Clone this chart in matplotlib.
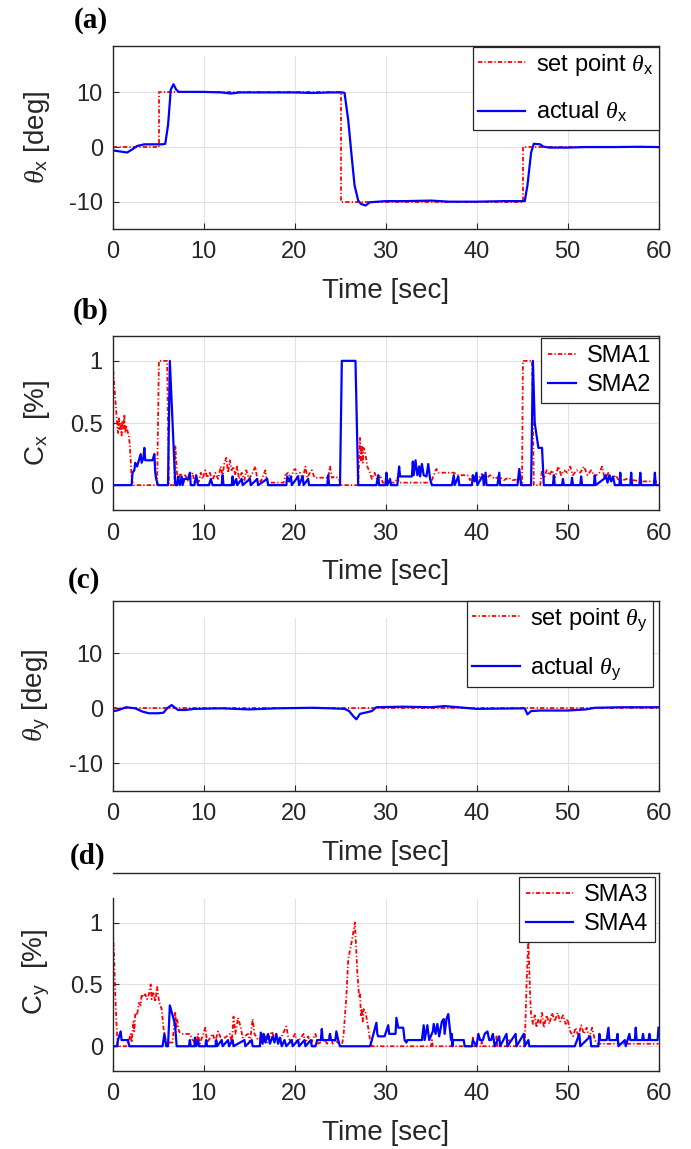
import numpy as np
import matplotlib
matplotlib.use('Agg')
import matplotlib.pyplot as plt

plt.rcParams['font.family'] = ['Liberation Sans', 'DejaVu Sans']
plt.rcParams['mathtext.fontset'] = 'custom'
plt.rcParams['mathtext.rm'] = 'Liberation Sans'
plt.rcParams['mathtext.it'] = 'Liberation Serif:italic'
plt.rcParams['mathtext.sf'] = 'Liberation Sans'
plt.rcParams['axes.unicode_minus'] = False

# ---------------- data ----------------
time_ticks = [0, 10, 20, 30, 40, 50, 60]
deg_ticks = [-10, 0, 10]
deg_ticklabels = ['-10', '0', '10']
pct_ticks = [0, 0.5, 1]
pct_ticklabels = ['0', '0.5', '1']

# (a) theta_x
setpoint_x = np.array([[0, 0], [5.1, 0], [5.1, 10], [25.1, 10], [25.1, -10],
                       [45.1, -10], [45.1, 0], [60, 0]])
actual_x = np.array([[0, -0.6], [0.8, -0.8], [1.6, -1.0], [2.2, -0.4], [2.7, 0.2],
                     [3.5, 0.5], [5.5, 0.5], [5.8, 0.6], [6.1, 4], [6.2, 6],
                     [6.4, 10.5], [6.7, 11.5], [7.0, 10.5], [7.3, 10.1], [8, 10.1],
                     [10, 10.1], [12, 10.0], [13, 9.8], [14, 10.0], [16, 10.0],
                     [18, 10.0], [20, 10.0], [22, 9.9], [24, 10.0], [25.3, 10.0],
                     [25.5, 9.9], [25.9, 5], [26.3, -2], [26.6, -7], [27.0, -9.8],
                     [27.3, -10.4], [27.8, -10.7], [28.3, -10.1], [30, -9.9],
                     [32, -9.9], [35, -9.8], [37, -10.0], [40, -10.0], [43, -9.9],
                     [45.3, -9.9], [45.6, -7], [46.0, -1], [46.3, 0.6], [47.0, 0.5],
                     [47.3, 0.1], [48, -0.1], [50, -0.1], [52, 0], [55, 0],
                     [58, 0.05], [60, 0]])

# (b) SMA1 / SMA2
sma1 = np.array([[0, 1.0], [0.3, 0.7], [0.5, 0.5], [0.6, 0.42], [0.7, 0.55], [0.8, 0.45],
                 [0.9, 0.5], [1.0, 0.4], [1.1, 0.52], [1.2, 0.45], [1.3, 0.57], [1.4, 0.42],
                 [1.5, 0.48], [1.6, 0.45], [1.7, 0.42], [1.8, 0.4], [1.9, 0.32], [2.0, 0.2],
                 [2.1, 0.05], [2.3, 0], [4.9, 0], [5.1, 1.0], [6.0, 1.0], [6.2, 0], [6.8, 0],
                 [6.9, 0.32], [7.0, 0.2], [7.1, 0.08], [7.3, 0.05], [7.5, 0.1], [7.7, 0.03],
                 [8.0, 0.08], [8.3, 0.03], [8.8, 0.1], [9.0, 0.02], [9.5, 0.03], [9.7, 0.1],
                 [9.9, 0.05], [10.2, 0.12], [10.4, 0.06], [10.7, 0.1], [11.0, 0.04],
                 [11.3, 0.1], [11.6, 0.05], [11.9, 0.15], [12.1, 0.08], [12.3, 0.18],
                 [12.5, 0.22], [12.7, 0.1], [12.9, 0.2], [13.1, 0.12], [13.3, 0.15],
                 [13.5, 0.08], [13.7, 0.15], [13.9, 0.05], [14.2, 0.1], [14.5, 0.04],
                 [14.7, 0.12], [15.0, 0.05], [15.4, 0.1], [15.7, 0.15], [15.9, 0.05],
                 [16.3, 0.03], [16.8, 0.12], [17.0, 0.02], [18.8, 0.02], [19.0, 0.08],
                 [19.3, 0.1], [19.6, 0.05], [19.9, 0.12], [20.1, 0.13], [20.3, 0.06],
                 [20.6, 0.1], [20.9, 0.05], [21.2, 0.15], [21.4, 0.06], [21.7, 0.1],
                 [21.9, 0.12], [22.2, 0.06], [23.7, 0.06], [23.9, 0.15], [24.1, 0.06],
                 [24.5, 0.07], [24.9, 0.05], [25.1, 0], [27.0, 0], [27.2, 0.38], [27.3, 0.2],
                 [27.4, 0.32], [27.5, 0.18], [27.6, 0.3], [27.8, 0.25], [28.0, 0.15],
                 [28.3, 0.1], [28.5, 0.05], [28.8, 0.1], [29.1, 0.04], [29.4, 0.08],
                 [29.7, 0.02], [31.0, 0.02], [31.3, 0.06], [31.5, 0.02], [35.0, 0.02],
                 [35.3, 0.08], [35.6, 0.13], [35.8, 0.1], [37.5, 0.1], [38.0, 0.08],
                 [39.0, 0.08], [39.3, 0.04], [39.6, 0.08], [40.2, 0.05], [40.6, 0.09],
                 [41.0, 0.05], [41.5, 0.08], [42.0, 0.05], [42.5, 0.07], [43.0, 0.04],
                 [43.5, 0.06], [44.0, 0.04], [44.8, 0.05], [45.0, 0], [45.1, 1.0],
                 [46.1, 1.0], [46.3, 0], [47.0, 0], [47.2, 0.12], [47.4, 0.05], [47.7, 0.12],
                 [48.0, 0.08], [48.3, 0.12], [48.6, 0.06], [49.0, 0.15], [49.3, 0.08],
                 [49.6, 0.12], [50.0, 0.1], [50.3, 0.15], [50.6, 0.08], [51.0, 0.12],
                 [51.4, 0.1], [51.8, 0.15], [52.2, 0.08], [52.6, 0.12], [53.0, 0.07],
                 [53.5, 0.1], [53.8, 0.15], [54.1, 0.05], [54.5, 0.1], [54.9, 0.04],
                 [55.3, 0.08], [55.7, 0.03], [56.5, 0.05], [58, 0.03], [60, 0.03]])
sma2 = np.array([[0, 0], [2.1, 0], [2.2, 0.1], [2.4, 0.12], [2.5, 0.18], [2.7, 0.15],
                 [2.9, 0.2], [3.1, 0.25], [3.2, 0.18], [3.4, 0.22], [3.5, 0.3], [3.6, 0.2],
                 [4.4, 0.2], [4.6, 0.25], [4.7, 0.1], [4.8, 0.05], [5.0, 0], [6.1, 0],
                 [6.3, 1.0], [6.9, 0], [7.1, 0], [7.2, 0.07], [7.4, 0], [7.6, 0.07], [7.7, 0],
                 [7.9, 0.05], [8.3, 0.05], [8.5, 0.1], [8.6, 0], [9.0, 0], [9.2, 0.08],
                 [9.4, 0], [10.6, 0], [10.8, 0.05], [11.0, 0], [12.0, 0], [12.1, 0.08],
                 [12.2, 0], [13.1, 0], [13.2, 0.07], [13.3, 0], [13.6, 0.05], [13.7, 0],
                 [14.2, 0.05], [14.3, 0], [15.1, 0.05], [15.2, 0], [15.9, 0.05], [16.0, 0],
                 [17.0, 0.05], [17.1, 0], [19.1, 0], [19.2, 0.07], [19.4, 0.03], [19.6, 0.07],
                 [19.7, 0], [20.4, 0.07], [20.5, 0], [20.9, 0.07], [21.0, 0], [21.5, 0.05],
                 [21.6, 0], [23.6, 0], [23.7, 0.08], [23.8, 0], [25.0, 0], [25.2, 1.0],
                 [26.7, 1.0], [27.0, 0], [29.0, 0], [29.2, 0.08], [29.3, 0], [30.0, 0],
                 [30.1, 0.1], [30.2, 0], [30.5, 0.05], [30.6, 0], [31.3, 0], [31.5, 0.15],
                 [31.6, 0.07], [32.9, 0.07], [33.0, 0.19], [33.1, 0.08], [33.3, 0.2],
                 [33.5, 0.08], [33.7, 0.15], [33.8, 0.07], [34.0, 0.17], [34.2, 0.08],
                 [34.5, 0.07], [34.7, 0.17], [34.9, 0.05], [35.1, 0], [37.3, 0], [37.5, 0.08],
                 [37.6, 0], [38.0, 0.07], [38.1, 0], [39.5, 0], [39.6, 0.08], [39.8, 0.03],
                 [40.0, 0.1], [40.1, 0], [40.7, 0.08], [40.8, 0], [41.0, 0.1], [41.1, 0],
                 [42.3, 0], [42.5, 0.1], [42.6, 0], [44.5, 0], [44.7, 0.13], [44.9, 0],
                 [46.0, 0], [46.2, 1.0], [46.4, 0.5], [46.6, 0.4], [46.8, 0.3], [47.2, 0.3],
                 [47.4, 0], [48.4, 0], [48.5, 0.08], [48.6, 0], [49.4, 0], [49.5, 0.05],
                 [49.6, 0], [50.4, 0], [50.5, 0.06], [50.6, 0], [51.4, 0], [51.5, 0.07],
                 [51.6, 0], [52.9, 0], [53.0, 0.08], [53.1, 0], [54.0, 0.05], [54.2, 0.08],
                 [54.4, 0.02], [54.6, 0.08], [54.8, 0.03], [55.0, 0.07], [55.2, 0],
                 [55.7, 0], [55.8, 0.1], [55.9, 0], [56.9, 0], [57.0, 0.1], [57.1, 0],
                 [57.9, 0], [58.0, 0.1], [58.1, 0], [59.5, 0], [59.6, 0.1], [59.7, 0],
                 [60, 0]])

# (c) theta_y
setpoint_y = np.array([[0, 0], [60, 0]])
actual_y = np.array([[0, -0.5], [0.5, -0.4], [1.5, 0.2], [2.5, 0.0], [3.3, -0.6],
                     [4.0, -0.9], [5.0, -0.9], [5.6, -0.8], [6.0, 0.0], [6.5, 0.6],
                     [6.8, 0.2], [7.2, -0.3], [8, -0.3], [9, -0.1], [12, 0], [15, -0.2],
                     [18, 0], [22, 0.1], [24, 0], [25.5, -0.1], [26, -0.5], [26.5, -1.5],
                     [26.8, -2.0], [27.2, -1.0], [28, -0.7], [28.5, -0.5], [29, 0.2],
                     [32, 0.3], [35, 0.2], [36.5, 0.4], [38, 0.2], [40, -0.1], [45.3, 0],
                     [45.6, -1.1], [46, -0.5], [47, -0.4], [50, -0.4], [52, -0.2],
                     [53, 0.1], [56, 0.2], [60, 0.2]])

# (d) SMA3 / SMA4
sma3 = np.array([[0, 1.0], [0.16, 0.75], [0.31, 0.4], [0.46, 0.15], [0.57, 0], [1.5, 0],
                 [1.8, 0.05], [2.0, 0.1], [2.1, 0.03], [2.3, 0.2], [2.4, 0.12], [2.5, 0.27],
                 [2.7, 0.25], [2.9, 0.35], [3.1, 0.33], [3.2, 0.42], [3.4, 0.4], [3.6, 0.42],
                 [3.8, 0.38], [4.0, 0.42], [4.2, 0.5], [4.3, 0.38], [4.5, 0.44], [4.7, 0.36],
                 [4.9, 0.48], [5.0, 0.42], [5.15, 0.35], [5.4, 0.3], [5.6, 0.15], [5.9, 0.03],
                 [6.6, 0.03], [6.9, 0.28], [7.0, 0.15], [7.1, 0.22], [7.3, 0.12], [7.6, 0.1],
                 [8.5, 0.1], [8.8, 0.05], [9.2, 0.02], [9.4, 0.1], [9.6, 0.02], [10.2, 0.15],
                 [10.4, 0.03], [11.0, 0.1], [11.3, 0.04], [11.6, 0.12], [12.0, 0.05],
                 [12.9, 0.1], [13.1, 0.03], [13.3, 0.24], [13.5, 0.1], [13.8, 0.23],
                 [14.1, 0.15], [14.3, 0.07], [14.9, 0.1], [15.1, 0.03], [15.4, 0.22],
                 [15.6, 0.1], [16.0, 0.05], [16.8, 0.1], [17.0, 0.03], [17.5, 0.12],
                 [17.8, 0.07], [18.4, 0.05], [19.1, 0.16], [19.3, 0.08], [19.6, 0.03],
                 [20.05, 0.1], [20.3, 0.03], [21.0, 0.1], [21.2, 0.02], [21.5, 0.08],
                 [21.8, 0.02], [22.3, 0.1], [22.6, 0.02], [23.3, 0.05], [23.6, 0.02],
                 [23.9, 0.1], [24.2, 0.02], [24.45, 0.05], [25.2, 0], [25.4, 0.1],
                 [25.7, 0.4], [25.9, 0.7], [26.3, 0.85], [26.64, 1.0], [26.9, 0.6],
                 [27.1, 0.4], [27.2, 0.42], [27.3, 0.25], [27.4, 0.3], [27.5, 0.2],
                 [27.6, 0.3], [27.8, 0.28], [28.1, 0.15], [28.3, 0.05], [28.5, 0],
                 [35.0, 0], [35.1, 0.05], [35.2, 0], [39.5, 0], [39.6, 0.07], [39.7, 0],
                 [40.5, 0], [40.6, 0.05], [40.7, 0], [42.1, 0], [42.2, 0.08], [42.3, 0],
                 [43.5, 0], [43.6, 0.05], [43.7, 0], [45.3, 0], [45.5, 0.5], [45.7, 0.86],
                 [45.9, 0.4], [46.0, 0.25], [46.2, 0.18], [46.4, 0.25], [46.6, 0.15],
                 [46.8, 0.22], [47.0, 0.18], [47.2, 0.27], [47.4, 0.15], [47.7, 0.25],
                 [48.0, 0.18], [48.3, 0.27], [48.6, 0.2], [48.9, 0.27], [49.2, 0.2],
                 [49.5, 0.25], [49.8, 0.18], [50.0, 0.22], [50.3, 0.12], [50.6, 0.08],
                 [50.9, 0.15], [51.2, 0.08], [51.5, 0.17], [51.8, 0.1], [52.1, 0.15],
                 [52.4, 0.07], [52.7, 0.15], [53.0, 0.05], [53.3, 0.02], [60, 0.02]])
sma4 = np.array([[0, 0], [0.5, 0], [0.6, 0.05], [0.9, 0.12], [1.0, 0.05], [1.7, 0.05],
                 [1.85, 0], [5.5, 0], [5.7, 0.1], [5.9, 0], [6.1, 0], [6.3, 0.33],
                 [6.6, 0.25], [6.87, 0.18], [7.05, 0], [8.4, 0], [8.5, 0.05], [8.6, 0],
                 [9.0, 0], [9.06, 0.07], [9.2, 0], [9.4, 0.05], [9.5, 0], [10.2, 0],
                 [10.3, 0.05], [10.4, 0], [11.3, 0], [11.4, 0.05], [11.5, 0], [12.0, 0.05],
                 [12.1, 0], [12.7, 0.05], [12.8, 0], [13.2, 0.05], [13.3, 0], [14.5, 0.05],
                 [14.6, 0], [15.3, 0.05], [15.4, 0], [16.2, 0], [16.3, 0.11], [16.5, 0.02],
                 [16.6, 0.1], [16.8, 0.03], [17.1, 0.1], [17.3, 0.02], [17.6, 0.08],
                 [17.8, 0.03], [18.0, 0.1], [18.2, 0.02], [18.4, 0.07], [18.6, 0],
                 [18.9, 0.05], [19.1, 0], [19.7, 0.05], [19.8, 0], [20.4, 0.05], [20.5, 0],
                 [21.1, 0.05], [21.2, 0], [21.8, 0.05], [21.9, 0], [22.3, 0], [22.5, 0.05],
                 [22.9, 0.05], [23.0, 0.14], [23.1, 0.05], [23.8, 0.05], [23.9, 0.1],
                 [24.0, 0.05], [24.5, 0.05], [24.6, 0.12], [24.8, 0.05], [25.0, 0],
                 [28.3, 0], [28.5, 0.05], [29.0, 0.19], [29.1, 0.1], [29.2, 0.08],
                 [29.9, 0.08], [30.3, 0.17], [30.4, 0.1], [31.1, 0.1], [31.2, 0.23],
                 [31.4, 0.15], [31.95, 0.15], [32.1, 0.05], [32.3, 0.03], [32.4, 0.05],
                 [34.0, 0.05], [34.2, 0.17], [34.3, 0.05], [34.6, 0.17], [34.8, 0.05],
                 [35.2, 0.12], [35.3, 0.18], [35.5, 0.1], [35.7, 0.18], [35.9, 0.08],
                 [36.2, 0.2], [36.4, 0.22], [36.5, 0.1], [36.7, 0.22], [36.9, 0.26],
                 [37.1, 0.12], [37.2, 0.05], [37.3, 0.1], [37.35, 0.0], [37.4, 0.05],
                 [38.6, 0.05], [38.7, 0], [39.5, 0], [39.6, 0.05], [40.0, 0], [40.2, 0.1],
                 [40.4, 0.05], [40.7, 0.05], [40.9, 0.1], [41.2, 0.12], [41.4, 0.05],
                 [41.6, 0.05], [41.8, 0.1], [42.0, 0], [42.5, 0.08], [42.6, 0], [43.3, 0.1],
                 [43.4, 0], [44.3, 0.1], [44.4, 0], [45.2, 0.1], [45.3, 0], [45.7, 0.05],
                 [45.8, 0], [50.8, 0], [51.3, 0.1], [51.4, 0], [52.5, 0.08], [52.6, 0],
                 [53.4, 0], [53.5, 0.1], [53.6, 0.05], [54.3, 0.05], [54.5, 0.15],
                 [54.6, 0.05], [55.4, 0.05], [55.5, 0.1], [55.6, 0], [56.3, 0.05],
                 [56.4, 0], [56.8, 0.1], [56.9, 0.05], [57.4, 0.05], [57.5, 0.15],
                 [57.6, 0.05], [58.2, 0.05], [58.3, 0.1], [58.4, 0.05], [58.9, 0.05],
                 [59.0, 0.1], [59.1, 0.05], [59.9, 0.05], [60, 0.15]])

# ---------------- figure ----------------
W, H = 691, 1149
fig = plt.figure(figsize=(W / 100, H / 100), dpi=100)

AX_L, AX_R = 112.5, 658.5


def add_ax(top, bottom):
    return fig.add_axes([AX_L / W, 1 - bottom / H, (AX_R - AX_L) / W, (bottom - top) / H])


RED = '#ff0000'
BLUE = '#0000ff'
GRID = '#e2e2e2'
SPINE = '#262626'
TICK_FS = 17
LABEL_FS = 20
DASHDOT = (0, (2.4, 1.2, 0.7, 1.2))


def style(ax, top, bottom, ylim, yticks, yticklabels, ylabel, grid_top):
    hpx = bottom - top
    ax.set_xlim(0, 60)
    ax.set_ylim(*ylim)
    ax.set_xticks(time_ticks)
    ax.set_xticklabels([str(t) for t in time_ticks])
    ax.set_yticks(yticks)
    ax.set_yticklabels(yticklabels)
    ax.tick_params(direction='in', length=4, width=0.8, color=SPINE,
                   labelsize=TICK_FS, labelcolor='#262626')
    ax.tick_params(axis='x', pad=9)
    ax.tick_params(axis='y', pad=7)
    ax.grid(axis='y', color=GRID, lw=0.8)
    for xt in time_ticks[1:-1]:
        ax.axvline(xt, ymin=0, ymax=grid_top, color=GRID, lw=0.8, zorder=0)
    ax.set_axisbelow(True)
    for s in ax.spines.values():
        s.set_color(SPINE)
        s.set_linewidth(1.0)
    ax.set_xlabel('Time [sec]', fontsize=LABEL_FS, color='#262626', va='top')
    ax.xaxis.set_label_coords(0.5, -49 / hpx)
    ax.set_ylabel(ylabel, fontsize=LABEL_FS, color='#262626')
    ax.yaxis.set_label_coords(-60 / (AX_R - AX_L), 0.5)


def legend(ax, handles_labels, x, y, hl, ls, bp):
    h, l = handles_labels
    leg = ax.legend(h, l, loc='upper right', bbox_to_anchor=(x, y), borderaxespad=0,
                    fontsize=TICK_FS, handlelength=hl, handletextpad=0.45,
                    borderpad=bp, labelspacing=ls, fancybox=False,
                    framealpha=1, edgecolor='#262626')
    leg.get_frame().set_linewidth(0.9)
    return leg


# (a)
ta, ba = 46, 229
ax1 = add_ax(ta, ba)
l1, = ax1.plot(setpoint_x[:, 0], setpoint_x[:, 1], color=RED, ls=DASHDOT, lw=1.3)
l2, = ax1.plot(actual_x[:, 0], actual_x[:, 1], color=BLUE, lw=1.6)
style(ax1, ta, ba, (-15, 18.5), deg_ticks, deg_ticklabels,
      r'$\theta_{\mathrm{x}}$ [deg]', (ba - 56) / (ba - ta))
legend(ax1, ([l1, l2], [r'set point $\theta_{\mathrm{x}}$', r'actual $\theta_{\mathrm{x}}$']),
       1.0, (ba - 46.5) / (ba - ta), 2.0, 0.95, 0.22)

# (b)
tb, bb = 336, 510
ax2 = add_ax(tb, bb)
l1, = ax2.plot(sma1[:, 0], sma1[:, 1], color=RED, ls=DASHDOT, lw=1.3)
l2, = ax2.plot(sma2[:, 0], sma2[:, 1], color=BLUE, lw=1.6)
style(ax2, tb, bb, (-0.2, 1.2), pct_ticks, pct_ticklabels,
      r'C$_{\mathrm{x}}$  [%]', 1.0)
legend(ax2, ([l1, l2], ['SMA1', 'SMA2']), 1.0, (bb - 338) / (bb - tb), 1.2, 0.3, 0.3)

# (c)
tc, bc = 600.7, 790.7
ax3 = add_ax(tc, bc)
l1, = ax3.plot(setpoint_y[:, 0], setpoint_y[:, 1], color=RED, ls=DASHDOT, lw=1.3)
l2, = ax3.plot(actual_y[:, 0], actual_y[:, 1], color=BLUE, lw=1.6)
style(ax3, tc, bc, (-15, 19.6), deg_ticks, deg_ticklabels,
      r'$\theta_{\mathrm{y}}$ [deg]', (bc - 618.3) / (bc - tc))
legend(ax3, ([l1, l2], [r'set point $\theta_{\mathrm{y}}$', r'actual $\theta_{\mathrm{y}}$']),
       (653 - AX_L) / (AX_R - AX_L), (bc - 601) / (bc - tc), 2.0, 0.95, 0.22)

# (d)
td, bd = 873, 1071
ax4 = add_ax(td, bd)
l1, = ax4.plot(sma3[:, 0], sma3[:, 1], color=RED, ls=DASHDOT, lw=1.3)
l2, = ax4.plot(sma4[:, 0], sma4[:, 1], color=BLUE, lw=1.6)
style(ax4, td, bd, (-0.2, 1.4), pct_ticks, pct_ticklabels,
      r'C$_{\mathrm{y}}$  [%]', (bd - 899.3) / (bd - td))
ax4.spines['left'].set_bounds(-0.2, 1.2)
legend(ax4, ([l1, l2], ['SMA3', 'SMA4']), (655 - AX_L) / (AX_R - AX_L),
       (bd - 877) / (bd - td), 2.0, 0.3, 0.3)

# panel letters
for lab, x, y in [('(a)', 91, 20), ('(b)', 91, 311), ('(c)', 84, 581), ('(d)', 88, 856)]:
    fig.text(x / W, 1 - y / H, lab, fontsize=21, fontweight='bold',
             family=['Liberation Serif', 'DejaVu Serif'], ha='center', va='center')

fig.savefig('out.png', dpi=100)
